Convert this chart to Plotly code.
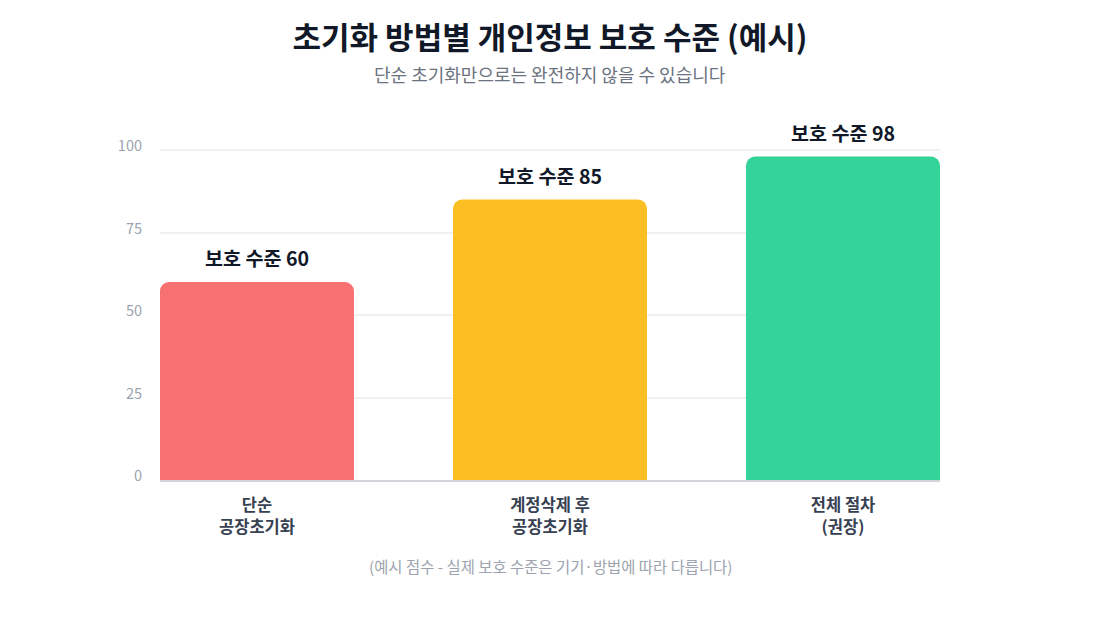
import plotly.graph_objects as go

categories = ["단순 공장초기화", "계정삭제 후 공장초기화", "전체 절차 (권장)"]
tick_line1 = ["단순", "계정삭제 후", "전체 절차"]
tick_line2 = ["공장초기화", "공장초기화", "(권장)"]
values = [60, 85, 98]
bar_colors = ["#f87171", "#fbbf24", "#34d399"]
label_texts = [f"보호 수준 {v}" for v in values]
y_ticks = [0, 25, 50, 75, 100]

FONT = "Noto Sans CJK KR"

# page is drawn with an 8px body margin; plot area in figure coords
PLOT_BOTTOM = 472
PLOT_H = 363

fig = go.Figure()
fig.add_trace(go.Bar(
    x=categories,
    y=values,
    marker=dict(color=bar_colors, line=dict(width=0)),
    width=0.662,
    hoverinfo="skip",
))
# empty helper trace so the second-line tick axis knows the categories
fig.add_trace(go.Scatter(
    x=categories, y=[None] * len(categories), xaxis="x2",
    mode="markers", hoverinfo="skip", showlegend=False,
))

for c, v, t in zip(categories, values, label_texts):
    fig.add_annotation(
        x=c, y=v, text=f"<b>{t}</b>", showarrow=False,
        yanchor="bottom", yshift=8,
        font=dict(family=FONT, size=19.6, color="#111827"),
    )

tickfont = dict(family=FONT, size=16.5, color="#374151")

fig.update_layout(
    width=1100, height=620,
    paper_bgcolor="white", plot_bgcolor="white",
    margin=dict(l=152, r=168, t=109, b=148),
    barcornerradius=9,
    showlegend=False,
    font=dict(family=FONT),
    title=dict(
        text="<b>초기화 방법별 개인정보 보호 수준 (예시)</b>",
        x=(550 - 8) / 1100, xanchor="center", y=1 - 30 / 620, yanchor="middle",
        font=dict(family=FONT, size=31, color="#111827"),
    ),
    xaxis=dict(
        type="category", categoryorder="array", categoryarray=categories,
        range=[-0.331, 2.331],
        showgrid=False, zeroline=False,
        showline=True, linecolor="#d1d5db", linewidth=2,
        ticks="", tickfont=tickfont,
        tickmode="array", tickvals=categories,
        ticktext=[f"<b>{s}</b>" for s in tick_line1],
        ticklabelstandoff=9,
        fixedrange=True,
    ),
    xaxis2=dict(
        type="category", categoryorder="array", categoryarray=categories,
        overlaying="x", matches="x", anchor="y", side="bottom",
        range=[-0.331, 2.331],
        showgrid=False, zeroline=False, showline=False,
        ticks="", tickfont=tickfont,
        tickmode="array", tickvals=categories,
        ticktext=[f"<b>{s}</b>" for s in tick_line2],
        ticklabelstandoff=35,
        fixedrange=True,
    ),
    yaxis=dict(
        range=[0, 110],
        tickvals=y_ticks,
        showgrid=True, gridcolor="#f0f1f3", gridwidth=2,
        zeroline=False, showline=False, ticks="",
        tickfont=dict(family=FONT, size=14.5, color="#9ca3af"),
        ticklabelstandoff=17, ticklabelshift=-4,
        fixedrange=True,
    ),
)

fig.add_annotation(
    text="단순 초기화만으로는 완전하지 않을 수 있습니다",
    xref="paper", yref="paper", x=0.5, y=(PLOT_BOTTOM - 66) / PLOT_H, showarrow=False,
    font=dict(family=FONT, size=18, color="#6b7280"), yanchor="middle",
)
fig.add_annotation(
    text="(예시 점수 - 실제 보호 수준은 기기·방법에 따라 다릅니다)",
    xref="paper", yref="paper", x=0.5, y=(PLOT_BOTTOM - 558) / PLOT_H, showarrow=False,
    font=dict(family=FONT, size=15.4, color="#9ca3af"), yanchor="middle",
)

fig.write_html("out.html")
